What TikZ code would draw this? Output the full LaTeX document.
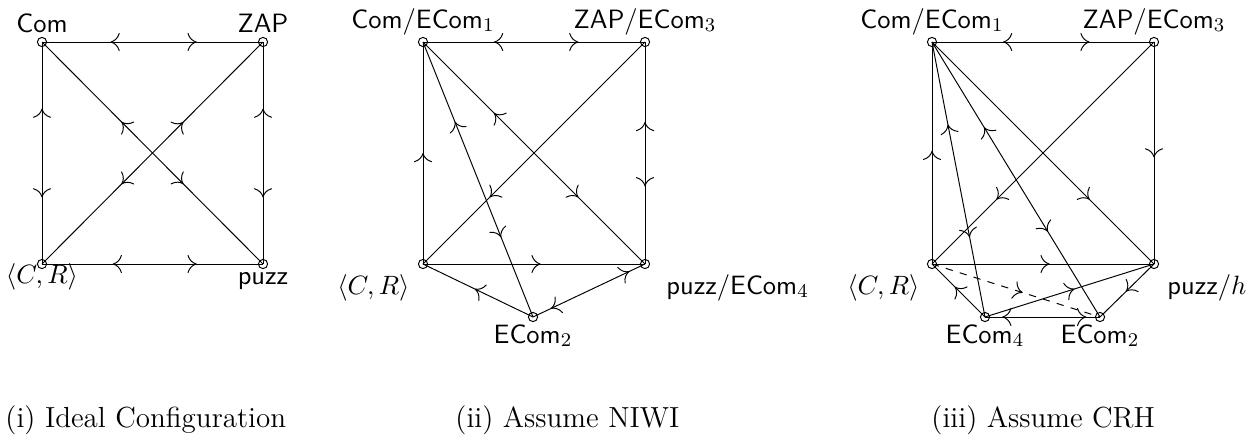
\documentclass[tikz,border=0pt]{standalone}
\usetikzlibrary{arrows.meta,decorations.markings}
\tikzset{
  cmtip/.tip={Computer Modern Rightarrow[width=7.5pt,length=3.8pt]},
  vtx/.style={circle,draw,inner sep=0pt,minimum size=3.8pt},
  lab/.style={inner sep=0pt,font=\fontsize{10.95}{13.6}\selectfont},
  capt/.style={inner sep=0pt,anchor=base west,font=\large},
  onearr/.style={postaction={decorate,decoration={markings,mark=at position #1 with {\arrow{cmtip}}}}},
  twoarr/.style 2 args={postaction={decorate,decoration={markings,
      mark=at position #1 with {\arrowreversed{cmtip}},
      mark=at position #2 with {\arrow{cmtip}}}}},
}
\begin{document}
\begin{tikzpicture}[x=0.413pt,y=-0.413pt]
\useasboundingbox (0,0) rectangle (1260,440);

% ---------- (i) ----------
\node[vtx] (a1) at (42,42) {};
\node[vtx] (b1) at (263,42) {};
\node[vtx] (c1) at (42,264) {};
\node[vtx] (d1) at (263,264) {};
\node[lab,anchor=base] (la1) at (42,32) {$\mathsf{Com}$};
\node[lab,anchor=base] (lb1) at (263,32) {$\mathsf{ZAP}$};
\node[lab,anchor=base] (lc1) at (42,283) {$\langle C,R\rangle$};
\node[lab,anchor=base] (ld1) at (263,284) {$\mathsf{puzz}$};
\draw[twoarr={0.31}{0.70}] (a1.center) -- (b1.center);
\draw[twoarr={0.30}{0.70}] (a1.center) -- (c1.center);
\draw[twoarr={0.32}{0.70}] (c1.center) -- (d1.center);
\draw[twoarr={0.30}{0.70}] (b1.center) -- (d1.center);
\draw[twoarr={0.36}{0.64}] (a1.center) -- (d1.center);
\draw[twoarr={0.36}{0.64}] (c1.center) -- (b1.center);

% ---------- (ii) ----------
\node[vtx] (a2) at (423,42) {};
\node[vtx] (b2) at (645,42) {};
\node[vtx] (c2) at (423,264) {};
\node[vtx] (d2) at (645,264) {};
\node[vtx] (e2) at (533,317) {};
\node[lab,anchor=base] (la2) at (423,28) {$\mathsf{Com}/\mathsf{ECom}_1$};
\node[lab,anchor=base] (lb2) at (645,28) {$\mathsf{ZAP}/\mathsf{ECom}_3$};
\node[lab,anchor=base east] (lc2) at (410,294) {$\langle C,R\rangle$};
\node[lab,anchor=base west] (ld2) at (666,294) {$\mathsf{puzz}/\mathsf{ECom}_4$};
\node[lab,anchor=base] (le2) at (533,343) {$\mathsf{ECom}_2$};
\draw[twoarr={0.32}{0.70}] (a2.center) -- (b2.center);
\draw[onearr=0.5] (c2.center) -- (a2.center);
\draw[twoarr={0.36}{0.65}] (b2.center) -- (d2.center);
\draw[twoarr={0.32}{0.70}] (a2.center) -- (d2.center);
\draw[onearr=0.70] (b2.center) -- (c2.center);
\draw[twoarr={0.29}{0.71}] (a2.center) -- (e2.center);
\draw[onearr=0.53] (c2.center) -- (d2.center);
\draw[onearr=0.53] (e2.center) -- (c2.center);
\draw[twoarr={0.16}{0.86}] (e2.center) -- (d2.center);

% ---------- (iii) ----------
\node[vtx] (a3) at (932,42) {};
\node[vtx] (b3) at (1154,42) {};
\node[vtx] (c3) at (932,264) {};
\node[vtx] (d3) at (1154,264) {};
\node[vtx] (f3) at (985,317) {};
\node[vtx] (e3) at (1100,317) {};
\node[lab,anchor=base] (la3) at (932,28) {$\mathsf{Com}/\mathsf{ECom}_1$};
\node[lab,anchor=base] (lb3) at (1154,28) {$\mathsf{ZAP}/\mathsf{ECom}_3$};
\node[lab,anchor=base east] (lc3) at (920,294) {$\langle C,R\rangle$};
\node[lab,anchor=base west] (ld3) at (1167,294) {$\mathsf{puzz}/h$};
\node[lab,anchor=base] (lf3) at (985,343) {$\mathsf{ECom}_4$};
\node[lab,anchor=base] (le3) at (1100,343) {$\mathsf{ECom}_2$};
\draw[twoarr={0.32}{0.71}] (a3.center) -- (b3.center);
\draw[onearr=0.51] (c3.center) -- (a3.center);
\draw[onearr=0.52] (b3.center) -- (d3.center);
\draw[onearr=0.71] (a3.center) -- (d3.center);
\draw[onearr=0.71] (b3.center) -- (c3.center);
\draw[onearr=0.53] (c3.center) -- (d3.center);
\draw[twoarr={0.30}{0.71}] (a3.center) -- (f3.center);
\draw[twoarr={0.31}{0.69}] (a3.center) -- (e3.center);
\draw[onearr=0.57] (f3.center) -- (c3.center);
\draw[dashed,onearr=0.54] (c3.center) -- (e3.center);
\draw[twoarr={0.15}{0.88}] (f3.center) -- (e3.center);
\draw[onearr=0.53] (f3.center) -- (d3.center);
\draw[onearr=0.52] (d3.center) -- (e3.center);

% ---------- captions ----------
\node[capt] (cap1) at (5,427) {(i) Ideal Configuration};
\node[capt] (cap2) at (455,427) {(ii) Assume NIWI};
\node[capt] (cap3) at (931,427) {(iii) Assume CRH};
\end{tikzpicture}
\end{document}
